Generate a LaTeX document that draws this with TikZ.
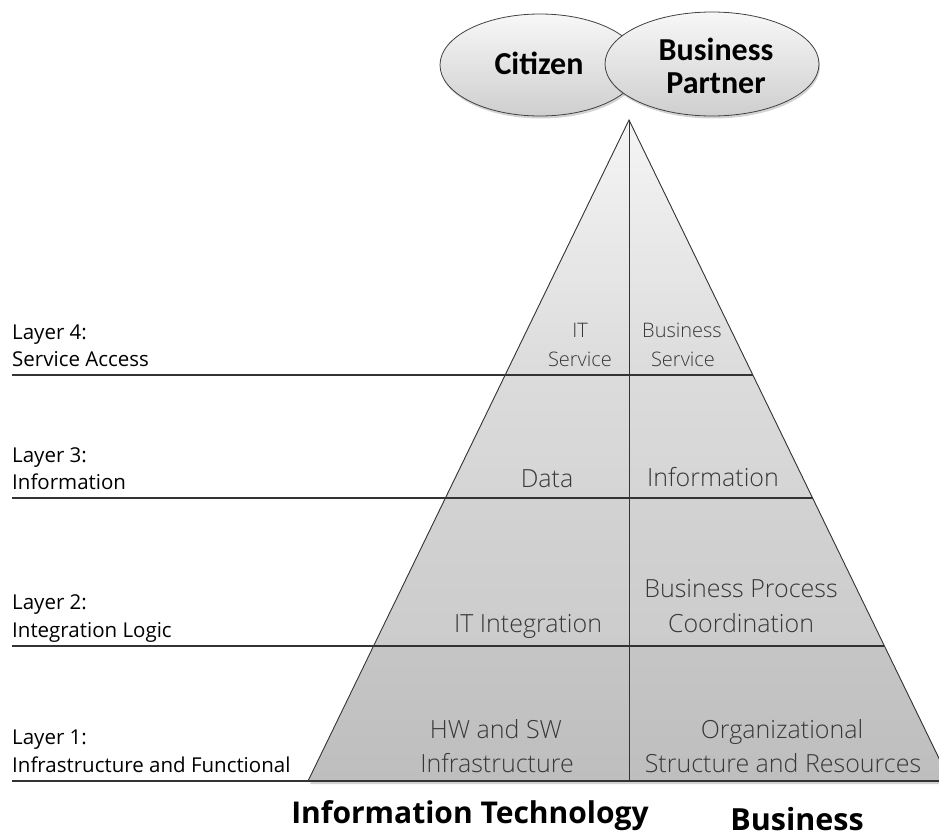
\documentclass[tikz,border=0pt]{standalone}
\usepackage{fontspec}
\setmainfont{Open Sans}
\newfontfamily\lightfont{Open Sans Light}
\newfontfamily\calfont{Carlito}
\usetikzlibrary{shapes.geometric,shadows,calc}
\begin{document}
\begin{tikzpicture}[x=1pt,y=-1pt,
  lbl/.style={anchor=base west,font=\fontsize{20.5}{28}\selectfont,inner sep=0pt},
  innertxt/.style={anchor=base,font=\lightfont\fontsize{25}{34}\selectfont,text=black!78,inner sep=0pt},
  smalltxt/.style={anchor=base,font=\lightfont\fontsize{20}{28}\selectfont,text=black!78,inner sep=0pt},
  elltxt/.style={anchor=base,font=\calfont\bfseries\fontsize{32}{34}\selectfont,inner sep=0pt},
  bottxt/.style={anchor=base,font=\bfseries\fontsize{30}{34}\selectfont,inner sep=0pt},
  ell/.style={ellipse,draw=black!75,line width=0.8pt,inner sep=0pt,top color=gray!6,bottom color=gray!38,
    drop shadow={shadow xshift=1pt,shadow yshift=-2.5pt,opacity=0.35}},
  layerline/.style={draw=black!80,line width=1.2pt},
  edge/.style={draw=black!80,line width=0.9pt}]
\useasboundingbox (0,0) rectangle (939,838);
\clip (0,0) rectangle (939,838);
% key points
\coordinate (A) at (629,120);
\coordinate (L4l) at (505,375); \coordinate (L4r) at (753,375);
\coordinate (L3l) at (445,498); \coordinate (L3r) at (813,498);
\coordinate (L2l) at (374,646); \coordinate (L2r) at (884,646);
\coordinate (L1l) at (308,781); \coordinate (L1r) at (950,781);
\coordinate (C4) at (629,375); \coordinate (C1) at (629,781);
\coordinate (S4) at (12,375); \coordinate (S3) at (12,498);
\coordinate (S2) at (12,646); \coordinate (S1) at (12,781);
% shadow of pyramid base
\fill[black,opacity=0.18] ($(L2l)+(2,3)$) -- ($(L2r)+(2,3)$) -- ($(L1r)+(2,3)$) -- ($(L1l)+(2,3)$) -- cycle;
% layer fills
\shade[top color=gray!8,bottom color=gray!28] (A) -- (L4r) -- (L4l) -- cycle;
\shade[top color=gray!28,bottom color=gray!33] (L4l) -- (L4r) -- (L3r) -- (L3l) -- cycle;
\shade[top color=gray!35,bottom color=gray!40] (L3l) -- (L3r) -- (L2r) -- (L2l) -- cycle;
\shade[top color=gray!45,bottom color=gray!51] (L2l) -- (L2r) -- (L1r) -- (L1l) -- cycle;
% outline
\draw[edge] (L1l) -- (A) -- (L1r);
\draw[edge] (A) -- (C1);
\draw[layerline] (S4) -- (L4r);
\draw[layerline] (S3) -- (L3r);
\draw[layerline] (S2) -- (L2r);
\draw[layerline] (S1) -- (L1r);
% ellipses
\node[ell,minimum width=200pt,minimum height=102pt] (cit) at (540,65) {};
\node[ell,minimum width=214pt,minimum height=104pt] (bp) at (712,64) {};
\node[elltxt] (cittxt) at (539,74) {Citizen};
\node[elltxt] (bptxt1) at (716,60) {Business};
\node[elltxt] (bptxt2) at (716,93) {Partner};
% layer labels
\node[lbl] (l4a) at (12,339) {Layer 4:};
\node[lbl] (l4b) at (12,366) {Service Access};
\node[lbl] (l3a) at (12,462) {Layer 3:};
\node[lbl] (l3b) at (12,489) {Information};
\node[lbl] (l2a) at (12,609) {Layer 2:};
\node[lbl] (l2b) at (12,637) {Integration Logic};
\node[lbl] (l1a) at (12,744) {Layer 1:};
\node[lbl] (l1b) at (12,772) {Infrastructure and Functional};
% inner texts
\node[smalltxt] (it1) at (580,337) {IT};
\node[smalltxt] (it2) at (580,366) {Service};
\node[smalltxt] (bs1) at (682,337) {Business};
\node[smalltxt] (bs2) at (683,366) {Service};
\node[innertxt] (data) at (547,487) {Data};
\node[innertxt] (info) at (713,486) {Information};
\node[innertxt] (itint) at (528,632) {IT Integration};
\node[innertxt] (bpc1) at (741,597) {Business Process};
\node[innertxt] (bpc2) at (741,632) {Coordination};
\node[innertxt] (hw1) at (496,738) {HW and SW};
\node[innertxt] (hw2) at (497,772) {Infrastructure};
\node[innertxt] (org1) at (782,738) {Organizational};
\node[innertxt] (org2) at (783,772) {Structure and Resources};
% bottom captions
\node[bottxt] (capit) at (470,823) {Information Technology};
\node[bottxt,font=\bfseries\fontsize{30.5}{34}\selectfont] (capbus) at (797,830) {Business};
\end{tikzpicture}
\end{document}
